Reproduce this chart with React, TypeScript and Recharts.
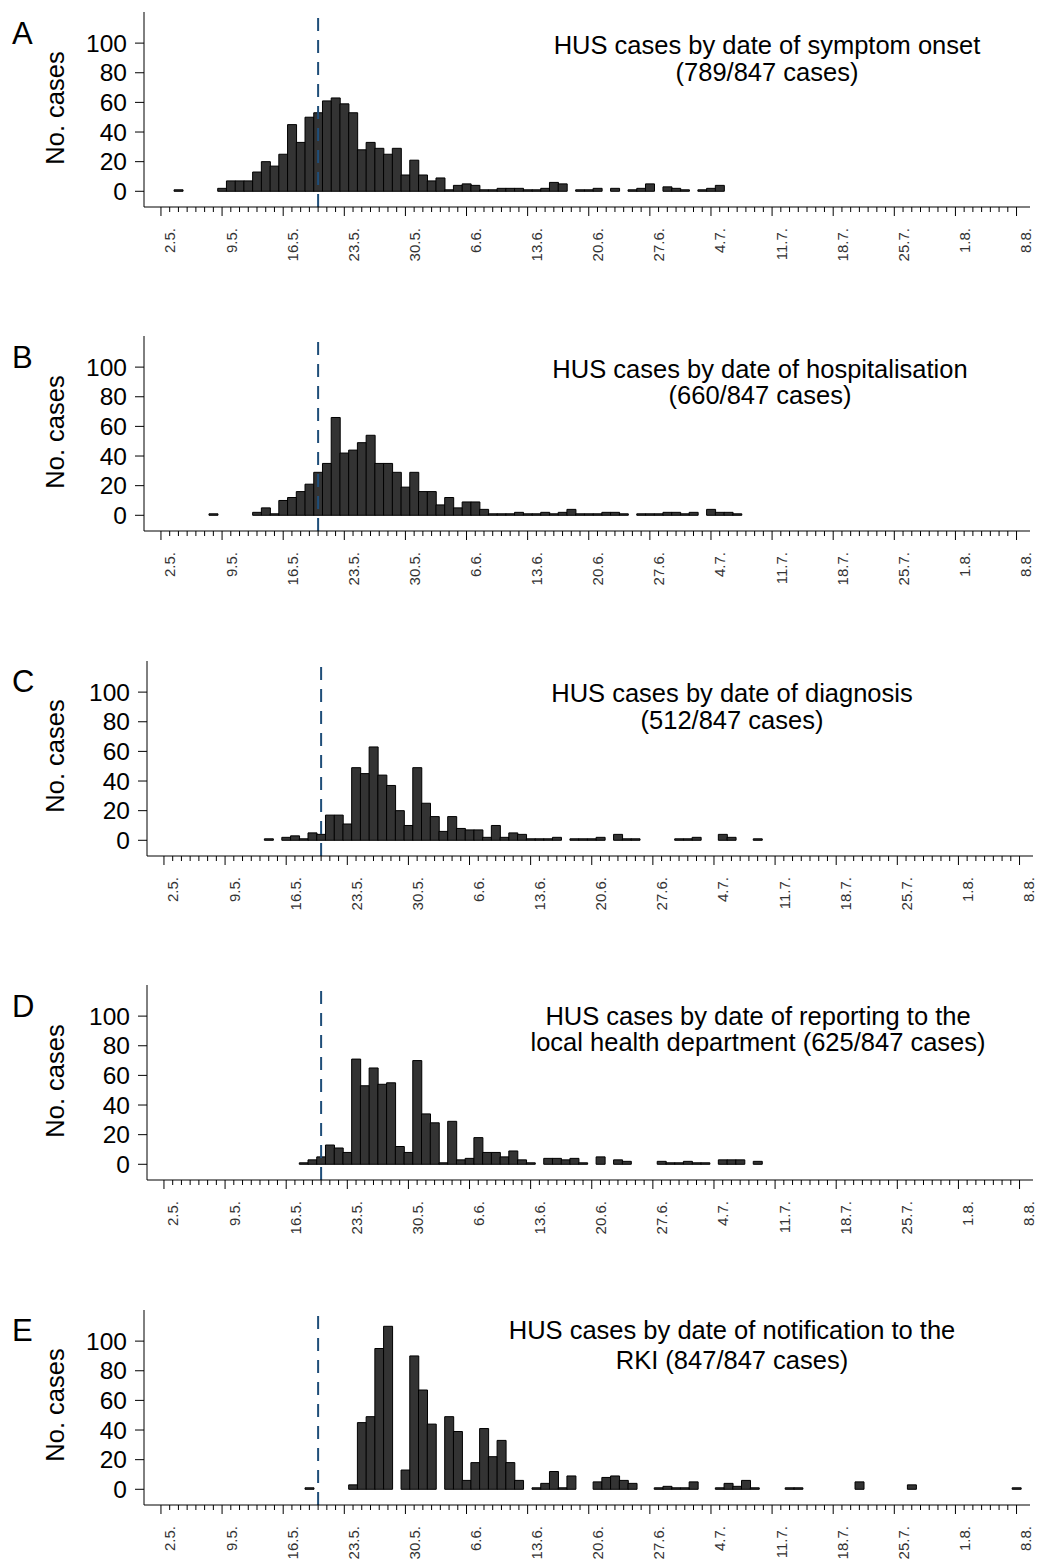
import { BarChart, Bar, XAxis, YAxis, ReferenceLine } from 'recharts';

const FONT = '"Liberation Sans", Arial, Helvetica, sans-serif';

// one category per day: day 0 = 2 May, day 98 = 8 Aug
const dayCount = 99;
const dateLabels = ['2.5.', '9.5.', '16.5.', '23.5.', '30.5.', '6.6.', '13.6.', '20.6.', '27.6.', '4.7.', '11.7.', '18.7.', '25.7.', '1.8.', '8.8.'];
const markerDay = 18; // dashed line at 20.5.
const yTicks = [0, 20, 40, 60, 80, 100];

// daily case counts, starting at the given first day
const onsetFirstDay = 2;
const onsetCases = [1, 0, 0, 0, 0, 2, 7, 7, 7, 13, 20, 17, 25, 45, 33, 50, 53, 61, 63, 59, 53, 28, 33, 29, 25, 29, 11, 21, 11, 7, 9, 1, 4, 5, 4, 1, 1, 2, 2, 2, 1, 1, 2, 6, 5, 0, 1, 1, 2, 0, 2, 0, 1, 2, 5, 0, 3, 2, 1, 0, 1, 2, 4];

const hospFirstDay = 6;
const hospCases = [1, 0, 0, 0, 0, 2, 5, 1, 10, 12, 16, 21, 29, 35, 66, 42, 44, 49, 54, 35, 35, 29, 19, 29, 16, 16, 7, 12, 5, 9, 9, 4, 1, 1, 1, 2, 1, 1, 2, 1, 2, 4, 1, 1, 1, 2, 2, 1, 0, 1, 1, 1, 2, 2, 1, 2, 0, 4, 2, 2, 1];

const diagFirstDay = 12;
const diagCases = [1, 0, 2, 3, 1, 5, 4, 17, 17, 11, 49, 45, 63, 44, 37, 20, 10, 49, 25, 16, 6, 16, 8, 7, 7, 2, 10, 2, 5, 4, 1, 1, 1, 2, 0, 1, 1, 1, 2, 0, 4, 1, 1, 0, 0, 0, 0, 1, 1, 2, 0, 0, 4, 2, 0, 0, 1];

const reportFirstDay = 16;
const reportCases = [1, 3, 5, 13, 11, 8, 71, 53, 65, 54, 55, 12, 8, 70, 34, 28, 1, 29, 3, 4, 18, 8, 8, 5, 9, 3, 1, 0, 4, 4, 3, 4, 1, 0, 5, 0, 3, 2, 0, 0, 0, 2, 1, 1, 2, 1, 1, 0, 3, 3, 3, 0, 2];

const notifFirstDay = 17;
const notifCases = [1, 0, 0, 0, 0, 3, 45, 49, 95, 110, 0, 13, 90, 67, 44, 0, 49, 39, 6, 18, 41, 22, 33, 18, 6, 0, 1, 4, 12, 1, 9, 0, 0, 5, 8, 9, 6, 4, 0, 0, 1, 2, 1, 1, 5, 0, 0, 1, 4, 2, 6, 1, 0, 0, 0, 1, 1, 0, 0, 0, 0, 0, 0, 5, 0, 0, 0, 0, 0, 3, 0, 0, 0, 0, 0, 0, 0, 0, 0, 0, 0, 1];

function toRows(firstDay: number, cases: number[]) {
  return Array.from({ length: dayCount }, (_, d) => {
    const c = cases[d - firstDay];
    return { day: d, cases: c ? c : null };
  });
}

const panels = [
  { letter: 'A', title: ['HUS cases by date of symptom onset', '(789/847 cases)'], rows: toRows(onsetFirstDay, onsetCases), shift: 0, tx: 767, ty: [45, 72] },
  { letter: 'B', title: ['HUS cases by date of hospitalisation', '(660/847 cases)'], rows: toRows(hospFirstDay, hospCases), shift: 0, tx: 760, ty: [44.6, 70.6] },
  { letter: 'C', title: ['HUS cases by date of diagnosis', '(512/847 cases)'], rows: toRows(diagFirstDay, diagCases), shift: 3, tx: 732, ty: [44, 71] },
  { letter: 'D', title: ['HUS cases by date of reporting to the', 'local health department (625/847 cases)'], rows: toRows(reportFirstDay, reportCases), shift: 3, tx: 758, ty: [42.8, 68.8] },
  { letter: 'E', title: ['HUS cases by date of notification to the', 'RKI (847/847 cases)'], rows: toRows(notifFirstDay, notifCases), shift: 0, tx: 732, ty: [32.4, 62.4] },
];

const DayTick = (props: any) => {
  const { x, y, payload } = props;
  const d = payload.value as number;
  const major = d % 7 === 0;
  const lx = x + 9;
  const ly = y + 21;
  return (
    <g>
      <line x1={x} y1={y} x2={x} y2={y + (major ? 9 : 5)} stroke="#000" strokeWidth={1} />
      {major && (
        <text
          x={lx}
          y={ly}
          transform={`rotate(-90, ${lx}, ${ly})`}
          textAnchor="end"
          dominantBaseline="central"
          fontSize={15}
          fontFamily={FONT}
          fill="#333"
        >
          {dateLabels[d / 7]}
        </text>
      )}
    </g>
  );
};

function Panel({ p, index }: { p: (typeof panels)[number]; index: number }) {
  const top = index * 324.4;
  return (
    <div style={{ position: 'absolute', left: 0, top, width: 1039, height: 324 }}>
      <BarChart
        width={1039}
        height={324}
        data={p.rows}
        margin={{ top: 12, right: 9 - p.shift, bottom: 57, left: p.shift }}
        barCategoryGap={0}
        barGap={0}
      >
        <XAxis
          dataKey="day"
          type="category"
          interval={0}
          height={60}
          tickSize={0}
          tickMargin={0}
          padding={{ left: 12.6, right: 9.1 }}
          axisLine={{ stroke: '#000' }}
          tickLine={false}
          tick={<DayTick />}
        />
        <YAxis
          width={144}
          domain={[-10.6, 121]}
          ticks={yTicks}
          interval={0}
          allowDataOverflow
          tickSize={9}
          tickMargin={8}
          axisLine={{ stroke: '#000' }}
          tickLine={{ stroke: '#000' }}
          tick={{ fill: '#000', fontSize: 24.5, fontFamily: FONT }}
        />
        <Bar dataKey="cases" fill="#333" stroke="#000" strokeWidth={1} isAnimationActive={false} />
        <ReferenceLine x={markerDay} stroke="#1f4e79" strokeWidth={2} strokeDasharray="13 9" />
      </BarChart>
      <div style={{ position: 'absolute', left: 12, top: 17.7, fontSize: 31, lineHeight: '31px', fontFamily: FONT, color: '#000' }}>
        {p.letter}
      </div>
      <div
        style={{
          position: 'absolute',
          left: 55 - 100,
          top: 107.5 - 15,
          width: 200,
          height: 30,
          lineHeight: '30px',
          textAlign: 'center',
          fontSize: 25.5,
          fontFamily: FONT,
          color: '#000',
          transform: 'rotate(-90deg)',
        }}
      >
        No. cases
      </div>
      {p.title.map((line, i) => (
        <div
          key={i}
          style={{
            position: 'absolute',
            left: p.tx - 300,
            top: p.ty[i] - 12,
            width: 600,
            height: 24,
            lineHeight: '24px',
            textAlign: 'center',
            fontSize: 25.5,
            fontFamily: FONT,
            color: '#000',
            whiteSpace: 'nowrap',
          }}
        >
          {line}
        </div>
      ))}
    </div>
  );
}

export default function App() {
  return (
    <div style={{ position: 'absolute', left: 0, top: 0, width: 1039, height: 1559, background: '#fff' }}>
      {panels.map((p, i) => (
        <Panel key={p.letter} p={p} index={i} />
      ))}
    </div>
  );
}
